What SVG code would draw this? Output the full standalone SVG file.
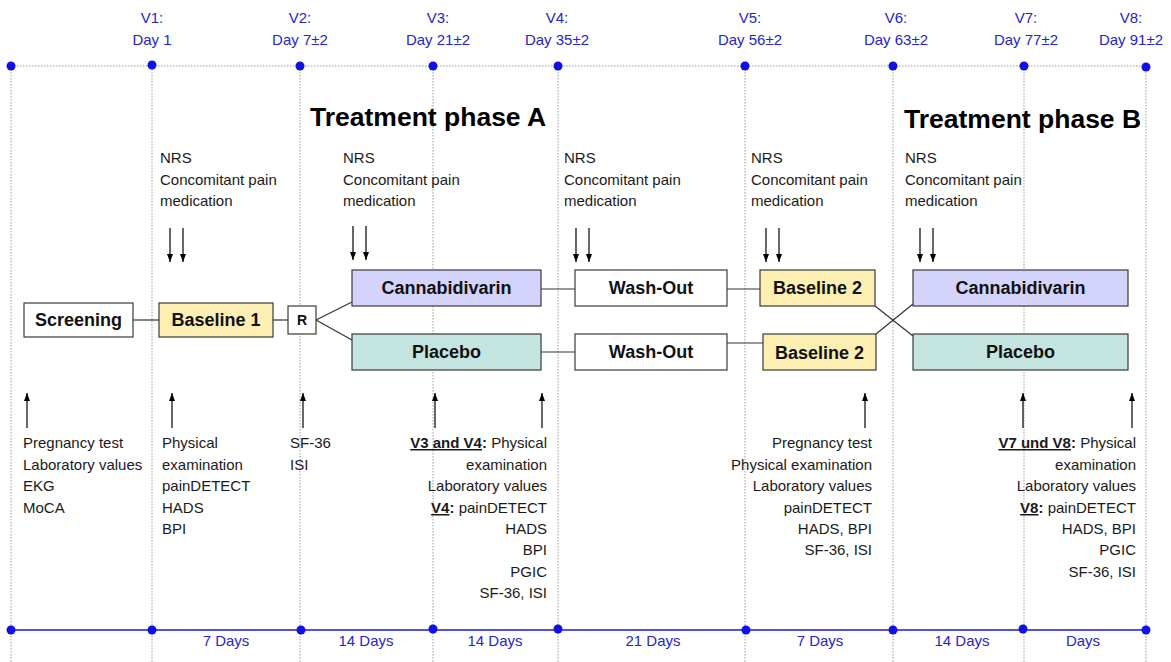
<svg xmlns="http://www.w3.org/2000/svg" width="1171" height="662" viewBox="0 0 1171 662">
<style>
.bg{fill:#fff}
.vl{stroke:#9a9a9a;stroke-width:1;stroke-dasharray:1.5 1.5;fill:none}
.top{stroke:#9a9a9a;stroke-width:1.2;stroke-dasharray:1.5 1.5}
.bot{stroke:#1a1ad8;stroke-width:1.5}
.dot{fill:#1010e8}
.blue{font-family:"Liberation Sans",Arial,sans-serif;font-size:15px;fill:#2525cc;text-anchor:middle}
.t{font-family:"Liberation Sans",Arial,sans-serif;font-size:15px;fill:#1a1a1a}
.r{text-anchor:end}
.title{font-family:"Liberation Sans",Arial,sans-serif;font-size:26.5px;font-weight:bold;fill:#000}
.box{stroke:#3a3a3a;stroke-width:1.2}
.bl{font-family:"Liberation Sans",Arial,sans-serif;font-size:18px;font-weight:bold;fill:#111;text-anchor:middle}
.con{stroke:#333;stroke-width:1.2;fill:none}
.arr{stroke:#000;stroke-width:1.2;fill:none;marker-end:url(#ah)}
.b{font-weight:bold}
.u{font-weight:bold;text-decoration:underline}
</style>
<defs>
<marker id="ah" viewBox="0 0 8 6" refX="8" refY="3" markerWidth="8" markerHeight="6" markerUnits="userSpaceOnUse" orient="auto">
<path d="M0,0 L8,3 L0,6 z" fill="#000"/>
</marker>
</defs>
<rect class="bg" width="1171" height="662"/>

<g id="timeline">
<line class="top" x1="11" y1="66" x2="1146" y2="66"/>
<g class="vl-group">
<line class="vl" x1="11" y1="66" x2="11" y2="662"/>
<line class="vl" x1="152" y1="66" x2="152" y2="662"/>
<line class="vl" x1="300" y1="66" x2="300" y2="662"/>
<line class="vl" x1="433" y1="66" x2="433" y2="662"/>
<line class="vl" x1="558" y1="66" x2="558" y2="662"/>
<line class="vl" x1="745" y1="66" x2="745" y2="662"/>
<line class="vl" x1="893" y1="66" x2="893" y2="662"/>
<line class="vl" x1="1024" y1="66" x2="1024" y2="662"/>
<line class="vl" x1="1146" y1="66" x2="1146" y2="662"/>
</g>
<line class="bot" x1="11" y1="630" x2="1146" y2="630"/>
<g>
<circle class="dot" cx="11" cy="66" r="4.5"/><circle class="dot" cx="152" cy="65" r="4.5"/><circle class="dot" cx="300" cy="66" r="4.5"/><circle class="dot" cx="433" cy="66" r="4.5"/><circle class="dot" cx="558" cy="66" r="4.5"/><circle class="dot" cx="745" cy="66" r="4.5"/><circle class="dot" cx="893" cy="66" r="4.5"/><circle class="dot" cx="1024" cy="66" r="4.5"/><circle class="dot" cx="1146" cy="67" r="4.5"/>
<circle class="dot" cx="11" cy="630" r="4.5"/><circle class="dot" cx="152" cy="630" r="4.5"/><circle class="dot" cx="301" cy="630" r="4.5"/><circle class="dot" cx="433" cy="629" r="4.5"/><circle class="dot" cx="558" cy="629" r="4.5"/><circle class="dot" cx="746" cy="630" r="4.5"/><circle class="dot" cx="893" cy="630" r="4.5"/><circle class="dot" cx="1023" cy="629" r="4.5"/><circle class="dot" cx="1146" cy="630" r="4.5"/>
</g>
<text class="blue" x="152" y="23">V1:</text><text class="blue" x="152" y="45">Day 1</text>
<text class="blue" x="300" y="23">V2:</text><text class="blue" x="300" y="45">Day 7±2</text>
<text class="blue" x="438" y="23">V3:</text><text class="blue" x="438" y="45">Day 21±2</text>
<text class="blue" x="557" y="23">V4:</text><text class="blue" x="557" y="45">Day 35±2</text>
<text class="blue" x="750" y="23">V5:</text><text class="blue" x="750" y="45">Day 56±2</text>
<text class="blue" x="896" y="23">V6:</text><text class="blue" x="896" y="45">Day 63±2</text>
<text class="blue" x="1026" y="23">V7:</text><text class="blue" x="1026" y="45">Day 77±2</text>
<text class="blue" x="1131" y="23">V8:</text><text class="blue" x="1131" y="45">Day 91±2</text>
<text class="blue" x="226" y="646">7 Days</text>
<text class="blue" x="366" y="646">14 Days</text>
<text class="blue" x="495" y="646">14 Days</text>
<text class="blue" x="653" y="646">21 Days</text>
<text class="blue" x="820" y="646">7 Days</text>
<text class="blue" x="962" y="646">14 Days</text>
<text class="blue" x="1083" y="646">Days</text>
</g>

<text class="title" x="310" y="126">Treatment phase A</text>
<text class="title" x="904" y="128">Treatment phase B</text>

<g id="connectors">
<line class="con" x1="133" y1="320" x2="159" y2="320"/>
<line class="con" x1="273" y1="320" x2="288" y2="320"/>
<line class="con" x1="316" y1="320" x2="352" y2="302"/>
<line class="con" x1="316" y1="320" x2="352" y2="340"/>
<line class="con" x1="541" y1="289" x2="575" y2="289"/>
<line class="con" x1="541" y1="352" x2="575" y2="352"/>
<line class="con" x1="727" y1="289" x2="760" y2="289"/>
<line class="con" x1="727" y1="343" x2="763" y2="343"/>
<line class="con" x1="875" y1="306" x2="913" y2="336"/>
<line class="con" x1="876" y1="334" x2="913" y2="304"/>
</g>

<g id="screening"><rect class="box" x="24" y="303" width="109" height="34" fill="#fff"/><text class="bl" x="78.5" y="326">Screening</text></g>
<g id="baseline1"><rect class="box" x="159" y="303" width="114" height="34" fill="#fdefb2"/><text class="bl" x="216" y="326">Baseline 1</text></g>
<g id="randomisation"><rect class="box" x="288" y="306" width="28" height="28" fill="#fff"/><text class="bl" x="302" y="325" style="font-size:14px">R</text></g>
<g id="cannabidivarin-a"><rect class="box" x="352" y="270" width="189" height="36" fill="#d3d3fb"/><text class="bl" x="446.5" y="294">Cannabidivarin</text></g>
<g id="placebo-a"><rect class="box" x="352" y="334" width="189" height="36" fill="#c4e4e0"/><text class="bl" x="446.5" y="358">Placebo</text></g>
<g id="washout-1"><rect class="box" x="575" y="270" width="152" height="36" fill="#fff"/><text class="bl" x="651" y="294">Wash-Out</text></g>
<g id="washout-2"><rect class="box" x="575" y="334" width="152" height="36" fill="#fff"/><text class="bl" x="651" y="358">Wash-Out</text></g>
<g id="baseline2-a"><rect class="box" x="760" y="270" width="115" height="36" fill="#fdefb2"/><text class="bl" x="817.5" y="294">Baseline 2</text></g>
<g id="baseline2-b"><rect class="box" x="763" y="334" width="113" height="36" fill="#fdefb2"/><text class="bl" x="819.5" y="359">Baseline 2</text></g>
<g id="cannabidivarin-b"><rect class="box" x="913" y="270" width="215" height="36" fill="#d3d3fb"/><text class="bl" x="1020.5" y="294">Cannabidivarin</text></g>
<g id="placebo-b"><rect class="box" x="913" y="334" width="215" height="36" fill="#c4e4e0"/><text class="bl" x="1020.5" y="358">Placebo</text></g>

<g id="nrs-notes">
<text class="t" x="160" y="163">NRS</text><text class="t" x="160" y="185">Concomitant pain</text><text class="t" x="160" y="206">medication</text>
<text class="t" x="343" y="163">NRS</text><text class="t" x="343" y="185">Concomitant pain</text><text class="t" x="343" y="206">medication</text>
<text class="t" x="564" y="163">NRS</text><text class="t" x="564" y="185">Concomitant pain</text><text class="t" x="564" y="206">medication</text>
<text class="t" x="751" y="163">NRS</text><text class="t" x="751" y="185">Concomitant pain</text><text class="t" x="751" y="206">medication</text>
<text class="t" x="905" y="163">NRS</text><text class="t" x="905" y="185">Concomitant pain</text><text class="t" x="905" y="206">medication</text>
</g>

<g id="arrows">
<line class="arr" x1="170" y1="228" x2="170" y2="262"/><line class="arr" x1="183" y1="228" x2="183" y2="262"/>
<line class="arr" x1="353" y1="226" x2="353" y2="260"/><line class="arr" x1="366" y1="226" x2="366" y2="260"/>
<line class="arr" x1="576" y1="228" x2="576" y2="262"/><line class="arr" x1="589" y1="228" x2="589" y2="262"/>
<line class="arr" x1="766" y1="228" x2="766" y2="262"/><line class="arr" x1="779" y1="228" x2="779" y2="262"/>
<line class="arr" x1="920" y1="228" x2="920" y2="262"/><line class="arr" x1="933" y1="228" x2="933" y2="262"/>
<line class="arr" x1="27" y1="428" x2="27" y2="393"/>
<line class="arr" x1="172" y1="428" x2="172" y2="393"/>
<line class="arr" x1="303" y1="428" x2="303" y2="393"/>
<line class="arr" x1="435" y1="428" x2="435" y2="393"/>
<line class="arr" x1="542" y1="428" x2="542" y2="393"/>
<line class="arr" x1="865" y1="428" x2="865" y2="393"/>
<line class="arr" x1="1023" y1="428" x2="1023" y2="393"/>
<line class="arr" x1="1132" y1="428" x2="1132" y2="393"/>
</g>

<g id="assessments">
<text class="t" x="23" y="448">Pregnancy test</text>
<text class="t" x="23" y="470">Laboratory values</text>
<text class="t" x="23" y="491">EKG</text>
<text class="t" x="23" y="513">MoCA</text>

<text class="t" x="162" y="448">Physical</text>
<text class="t" x="162" y="470">examination</text>
<text class="t" x="162" y="491">painDETECT</text>
<text class="t" x="162" y="513">HADS</text>
<text class="t" x="162" y="534">BPI</text>

<text class="t" x="290" y="448">SF-36</text>
<text class="t" x="290" y="470">ISI</text>

<text class="t r" x="547" y="448"><tspan class="u">V3 and V4</tspan><tspan class="b">:</tspan> Physical</text>
<text class="t r" x="547" y="470">examination</text>
<text class="t r" x="547" y="491">Laboratory values</text>
<text class="t r" x="547" y="513"><tspan class="u">V4</tspan><tspan class="b">:</tspan> painDETECT</text>
<text class="t r" x="547" y="534">HADS</text>
<text class="t r" x="547" y="555">BPI</text>
<text class="t r" x="547" y="577">PGIC</text>
<text class="t r" x="547" y="598">SF-36, ISI</text>

<text class="t r" x="872" y="448">Pregnancy test</text>
<text class="t r" x="872" y="470">Physical examination</text>
<text class="t r" x="872" y="491">Laboratory values</text>
<text class="t r" x="872" y="513">painDETECT</text>
<text class="t r" x="872" y="534">HADS, BPI</text>
<text class="t r" x="872" y="555">SF-36, ISI</text>

<text class="t r" x="1136" y="448"><tspan class="u">V7 und V8</tspan><tspan class="b">:</tspan> Physical</text>
<text class="t r" x="1136" y="470">examination</text>
<text class="t r" x="1136" y="491">Laboratory values</text>
<text class="t r" x="1136" y="513"><tspan class="u">V8</tspan><tspan class="b">:</tspan> painDETECT</text>
<text class="t r" x="1136" y="534">HADS, BPI</text>
<text class="t r" x="1136" y="555">PGIC</text>
<text class="t r" x="1136" y="577">SF-36, ISI</text>
</g>
</svg>
